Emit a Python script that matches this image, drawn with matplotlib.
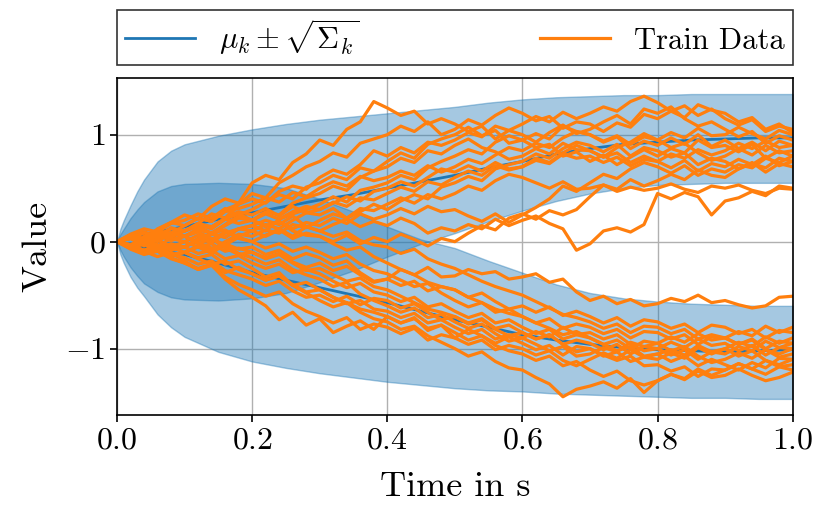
import numpy as np
import matplotlib
matplotlib.use("Agg")
import matplotlib.pyplot as plt

plt.rcParams["font.family"] = "serif"
plt.rcParams["font.serif"] = ["cmr10"]
plt.rcParams["mathtext.fontset"] = "cm"
plt.rcParams["axes.formatter.use_mathtext"] = True
plt.rcParams["font.size"] = 23

# --- band / mean curves ---
t_band = [0, 0.005, 0.01, 0.02, 0.03, 0.04, 0.06, 0.08, 0.1, 0.15, 0.2, 0.25, 0.3, 0.35, 0.4,
          0.45, 0.5, 0.55, 0.6, 0.65, 0.7, 0.75, 0.8, 0.85, 0.9, 0.95, 1.0]
up_mean = [0, 0.008, 0.015, 0.03, 0.045, 0.06, 0.09, 0.115, 0.14, 0.21, 0.27, 0.33, 0.39, 0.44, 0.50,
           0.56, 0.62, 0.69, 0.75, 0.82, 0.87, 0.91, 0.93, 0.95, 0.96, 0.97, 0.97]
up_top = [0, 0.12, 0.2, 0.34, 0.47, 0.58, 0.75, 0.85, 0.91, 0.99, 1.05, 1.10, 1.14, 1.17, 1.20,
          1.23, 1.26, 1.30, 1.33, 1.35, 1.36, 1.37, 1.37, 1.38, 1.38, 1.38, 1.38]
up_bot = [0, -0.08, -0.14, -0.24, -0.32, -0.39, -0.47, -0.52, -0.54, -0.55, -0.53, -0.48, -0.38, -0.27, -0.14,
          -0.02, 0.08, 0.19, 0.29, 0.38, 0.45, 0.50, 0.53, 0.54, 0.55, 0.55, 0.55]
lo_mean = [0, -0.008, -0.015, -0.03, -0.043, -0.055, -0.08, -0.10, -0.12, -0.2, -0.29, -0.36, -0.43, -0.50, -0.57,
           -0.65, -0.73, -0.80, -0.87, -0.92, -0.96, -0.99, -1.01, -1.02, -1.03, -1.02, -1.01]
lo_top = [0, 0.07, 0.12, 0.22, 0.30, 0.37, 0.47, 0.52, 0.54, 0.55, 0.54, 0.50, 0.40, 0.28, 0.14,
          0.02, -0.06, -0.18, -0.29, -0.40, -0.48, -0.53, -0.56, -0.58, -0.59, -0.60, -0.60]
lo_bot = [0, -0.12, -0.2, -0.33, -0.43, -0.51, -0.68, -0.80, -0.89, -1.03, -1.12, -1.18, -1.23, -1.27, -1.31,
          -1.34, -1.37, -1.39, -1.40, -1.42, -1.43, -1.44, -1.45, -1.46, -1.46, -1.47, -1.47]

# --- training trajectories (51 samples, dt = 0.02) ---
t_train = np.linspace(0, 1, 51)
train_up = [
    [0.00, 0.06, 0.02, 0.12, 0.18, 0.25, 0.21, 0.33, 0.40, 0.36, 0.55, 0.62, 0.58, 0.74, 0.82, 0.95,
     0.90, 1.05, 1.12, 1.31, 1.25, 1.18, 1.22, 1.10, 1.15, 1.10, 1.03, 1.08, 0.96, 1.04, 1.00,
     0.93, 1.02, 1.09, 1.01, 1.05, 1.12, 1.18, 1.10, 1.24, 1.20, 1.26, 1.15, 1.08, 1.12, 1.05,
     0.98, 1.03, 0.92, 0.99, 0.95],
    [0.00, -0.04, 0.05, 0.10, 0.08, 0.15, 0.22, 0.19, 0.30, 0.35, 0.40, 0.36, 0.47, 0.52, 0.49, 0.60,
     0.67, 0.63, 0.72, 0.85, 0.80, 0.88, 0.83, 0.93, 0.90, 0.95, 1.02, 0.98, 1.08, 1.04, 1.10,
     1.17, 1.12, 1.21, 1.15, 1.20, 1.26, 1.22, 1.31, 1.36, 1.30, 1.22, 1.27, 1.18, 1.24, 1.15,
     1.09, 1.14, 1.03, 1.08, 1.05],
    [0.00, 0.05, -0.02, 0.08, 0.04, 0.10, 0.17, 0.26, 0.22, 0.35, 0.45, 0.41, 0.55, 0.62, 0.70, 0.75,
     0.83, 0.79, 0.92, 0.96, 1.00, 1.08, 1.03, 1.12, 1.00, 1.05, 1.14, 1.09, 1.18, 1.25, 1.20,
     1.13, 1.17, 1.06, 1.12, 1.10, 1.03, 1.11, 1.07, 1.19, 1.15, 1.22, 1.16, 1.28, 1.23, 1.20,
     1.12, 1.16, 1.05, 1.10, 1.02],
    [0.00, 0.07, 0.12, 0.09, 0.17, 0.20, 0.26, 0.22, 0.31, 0.25, 0.30, 0.37, 0.44, 0.40, 0.51, 0.55,
     0.62, 0.58, 0.69, 0.66, 0.75, 0.83, 0.78, 0.91, 0.96, 1.00, 1.07, 0.99, 1.04, 0.92, 0.95,
     1.01, 0.96, 1.08, 1.03, 1.00, 0.93, 0.98, 0.87, 0.94, 0.90, 0.97, 0.91, 1.00, 0.89, 0.95,
     0.87, 0.93, 0.85, 0.94, 0.90],
    [0.00, -0.03, 0.04, 0.00, 0.08, 0.05, 0.11, 0.08, 0.16, 0.24, 0.20, 0.28, 0.25, 0.36, 0.41, 0.45,
     0.52, 0.48, 0.60, 0.66, 0.70, 0.78, 0.74, 0.85, 0.82, 0.90, 0.96, 0.88, 0.84, 0.77, 0.80,
     0.87, 0.82, 0.92, 0.86, 0.85, 0.79, 0.88, 0.93, 1.01, 0.95, 0.88, 0.92, 0.83, 0.76, 0.80,
     0.87, 0.81, 0.90, 0.83, 0.85],
    [0.00, -0.06, -0.02, -0.09, -0.04, -0.05, 0.03, -0.01, 0.08, 0.12, 0.15, 0.10, 0.21, 0.26, 0.30, 0.35,
     0.42, 0.37, 0.48, 0.51, 0.55, 0.62, 0.58, 0.69, 0.75, 0.80, 0.86, 0.82, 0.93, 0.99, 0.95,
     0.88, 0.91, 0.80, 0.84, 0.75, 0.81, 0.72, 0.79, 0.86, 0.80, 0.87, 0.83, 0.95, 0.88, 0.90,
     0.84, 0.91, 0.78, 0.85, 0.80],
    [0.00, 0.04, 0.09, 0.05, 0.13, 0.10, 0.17, 0.14, 0.22, 0.28, 0.25, 0.31, 0.24, 0.33, 0.27, 0.30,
     0.37, 0.33, 0.41, 0.39, 0.45, 0.51, 0.47, 0.56, 0.53, 0.60, 0.66, 0.62, 0.71, 0.67, 0.70,
     0.78, 0.74, 0.83, 0.90, 0.85, 0.79, 0.83, 0.74, 0.80, 0.75, 0.69, 0.76, 0.66, 0.73, 0.70,
     0.77, 0.72, 0.80, 0.71, 0.75],
    [0.00, 0.03, -0.04, 0.02, -0.05, 0.00, 0.06, 0.02, 0.09, 0.05, 0.10, 0.16, 0.12, 0.20, 0.27, 0.25,
     0.31, 0.22, 0.28, 0.35, 0.30, 0.38, 0.44, 0.40, 0.51, 0.55, 0.61, 0.57, 0.68, 0.72, 0.75,
     0.82, 0.78, 0.87, 0.93, 0.90, 0.84, 0.91, 0.80, 0.88, 0.85, 0.79, 0.83, 0.72, 0.78, 0.75,
     0.68, 0.74, 0.65, 0.73, 0.70],
    [0.00, 0.04, -0.02, 0.06, 0.01, 0.05, 0.09, 0.03, -0.03, 0.04, 0.00, 0.06, 0.12, 0.05, 0.14, 0.10,
     0.16, 0.21, 0.14, 0.19, 0.15, 0.22, 0.17, 0.08, 0.13, 0.10, 0.16, 0.12, 0.21, 0.15, 0.20,
     0.24, 0.17, 0.12, -0.08, -0.02, 0.10, 0.13, 0.09, 0.16, 0.45, 0.40, 0.46, 0.42, 0.25, 0.38,
     0.41, 0.47, 0.43, 0.52, 0.50],
    [0.00, -0.05, 0.02, -0.03, -0.08, -0.05, 0.01, 0.08, 0.04, 0.12, 0.10, 0.05, 0.11, 0.03, 0.08, 0.05,
     0.00, 0.06, -0.02, 0.04, 0.00, 0.07, 0.02, -0.04, 0.03, 0.00, 0.08, 0.15, 0.11, 0.22, 0.26,
     0.21, 0.29, 0.25, 0.30, 0.42, 0.53, 0.49, 0.58, 0.52, 0.57, 0.63, 0.58, 0.67, 0.62, 0.60,
     0.68, 0.73, 0.69, 0.78, 0.75],
    [0.00, 0.05, 0.02, 0.10, 0.07, 0.10, 0.16, 0.13, 0.21, 0.17, 0.20, 0.14, 0.19, 0.12, 0.18, 0.15,
     0.22, 0.17, 0.26, 0.21, 0.25, 0.31, 0.26, 0.33, 0.28, 0.30, 0.24, 0.19, 0.26, 0.18, 0.25,
     0.32, 0.40, 0.52, 0.47, 0.55, 0.63, 0.59, 0.68, 0.74, 0.70, 0.64, 0.71, 0.62, 0.68, 0.65,
     0.72, 0.69, 0.78, 0.74, 0.80],
    [0.00, -0.05, -0.10, -0.06, -0.13, -0.10, -0.04, -0.08, 0.00, 0.07, 0.05, 0.11, 0.08, 0.16, 0.13, 0.20,
     0.26, 0.22, 0.31, 0.29, 0.35, 0.41, 0.36, 0.44, 0.40, 0.45, 0.52, 0.48, 0.57, 0.63, 0.60,
     0.55, 0.50, 0.56, 0.49, 0.50, 0.53, 0.47, 0.51, 0.48, 0.50, 0.54, 0.49, 0.46, 0.52, 0.50,
     0.53, 0.48, 0.45, 0.50, 0.49],
    [0.00, 0.06, 0.03, 0.11, 0.18, 0.15, 0.22, 0.19, 0.28, 0.31, 0.35, 0.41, 0.37, 0.46, 0.42, 0.50,
     0.56, 0.52, 0.61, 0.57, 0.60, 0.66, 0.62, 0.71, 0.65, 0.70, 0.77, 0.73, 0.81, 0.88, 0.85,
     0.92, 0.88, 0.97, 1.03, 1.00, 0.94, 0.99, 0.91, 0.98, 0.95, 1.02, 0.97, 1.06, 0.99, 1.00,
     1.07, 1.01, 0.96, 1.04, 1.00],
    [0.00, 0.04, -0.02, 0.03, 0.08, 0.05, 0.12, 0.08, 0.15, 0.22, 0.20, 0.26, 0.21, 0.28, 0.33, 0.30,
     0.36, 0.42, 0.38, 0.47, 0.50, 0.56, 0.52, 0.60, 0.68, 0.65, 0.71, 0.66, 0.74, 0.68, 0.70,
     0.76, 0.73, 0.82, 0.78, 0.80, 0.74, 0.79, 0.71, 0.77, 0.75, 0.82, 0.78, 0.86, 0.81, 0.85,
     0.92, 0.87, 0.94, 0.88, 0.90],
]
train_lo = [
    [0.00, -0.04, -0.08, -0.03, -0.12, -0.10, -0.05, -0.11, -0.02, -0.07, -0.05, -0.12, -0.08, -0.16, -0.11, -0.15,
     -0.22, -0.18, -0.29, -0.37, -0.35, -0.26, -0.31, -0.24, -0.33, -0.32, -0.26, -0.30, -0.28, -0.35, -0.33,
     -0.30, -0.38, -0.35, -0.47, -0.55, -0.51, -0.58, -0.54, -0.60, -0.58, -0.53, -0.56, -0.50, -0.57, -0.55,
     -0.59, -0.62, -0.60, -0.52, -0.51],
    [0.00, 0.04, 0.09, 0.03, 0.08, 0.05, -0.02, 0.03, -0.06, -0.12, -0.10, -0.15, -0.11, -0.19, -0.24, -0.20,
     -0.27, -0.23, -0.31, -0.38, -0.35, -0.41, -0.37, -0.46, -0.42, -0.45, -0.52, -0.48, -0.56, -0.63, -0.60,
     -0.66, -0.61, -0.69, -0.65, -0.70, -0.76, -0.71, -0.79, -0.73, -0.75, -0.81, -0.77, -0.85, -0.78, -0.80,
     -0.86, -0.82, -0.90, -0.83, -0.85],
    [0.00, -0.05, -0.02, -0.09, -0.12, -0.15, -0.21, -0.18, -0.27, -0.31, -0.35, -0.41, -0.37, -0.46, -0.52, -0.50,
     -0.56, -0.51, -0.59, -0.53, -0.55, -0.62, -0.58, -0.66, -0.73, -0.70, -0.77, -0.73, -0.82, -0.88, -0.85,
     -0.91, -0.87, -0.96, -0.92, -0.95, -1.01, -0.96, -1.05, -0.98, -1.00, -0.94, -0.99, -0.91, -0.97, -0.95,
     -1.02, -0.97, -1.06, -0.99, -1.00],
    [0.00, -0.06, -0.10, -0.07, -0.15, -0.20, -0.26, -0.22, -0.33, -0.40, -0.45, -0.51, -0.47, -0.58, -0.65, -0.70,
     -0.76, -0.71, -0.82, -0.77, -0.80, -0.86, -0.81, -0.92, -0.87, -0.90, -0.96, -0.92, -1.01, -0.97, -1.00,
     -1.06, -1.02, -1.11, -1.16, -1.10, -1.04, -1.09, -1.01, -1.08, -1.05, -1.12, -1.07, -1.16, -1.10, -1.15,
     -1.20, -1.13, -1.18, -1.09, -1.10],
    [0.00, -0.03, -0.08, -0.04, -0.12, -0.10, -0.16, -0.21, -0.18, -0.26, -0.30, -0.36, -0.32, -0.41, -0.38, -0.45,
     -0.52, -0.57, -0.63, -0.66, -0.70, -0.76, -0.72, -0.81, -0.78, -0.85, -0.92, -0.88, -0.97, -1.02, -1.05,
     -1.11, -1.07, -1.16, -1.12, -1.20, -1.26, -1.21, -1.30, -1.34, -1.30, -1.24, -1.28, -1.19, -1.25, -1.20,
     -1.14, -1.19, -1.11, -1.17, -1.15],
    [0.00, -0.06, -0.02, -0.09, -0.05, -0.10, -0.15, -0.12, -0.21, -0.18, -0.25, -0.33, -0.29, -0.41, -0.48, -0.55,
     -0.61, -0.57, -0.66, -0.72, -0.75, -0.82, -0.79, -0.88, -0.94, -1.00, -1.07, -1.03, -1.12, -1.18, -1.20,
     -1.27, -1.33, -1.45, -1.38, -1.35, -1.31, -1.37, -1.28, -1.41, -1.30, -1.24, -1.29, -1.21, -1.27, -1.25,
     -1.19, -1.25, -1.30, -1.27, -1.22],
    [0.00, 0.03, -0.02, 0.06, 0.02, 0.05, -0.01, -0.06, -0.03, -0.11, -0.15, -0.21, -0.17, -0.26, -0.31, -0.35,
     -0.42, -0.38, -0.49, -0.55, -0.60, -0.66, -0.62, -0.71, -0.68, -0.75, -0.81, -0.77, -0.86, -0.93, -0.90,
     -0.84, -0.89, -0.80, -0.87, -0.85, -0.91, -0.87, -0.96, -1.02, -1.00, -1.06, -1.01, -1.10, -1.03, -1.05,
     -0.98, -1.02, -0.93, -0.99, -0.95],
    [0.00, -0.04, 0.01, -0.06, -0.02, -0.05, -0.11, -0.08, -0.16, -0.13, -0.20, -0.25, -0.21, -0.29, -0.26, -0.30,
     -0.37, -0.43, -0.39, -0.47, -0.50, -0.56, -0.52, -0.61, -0.58, -0.65, -0.71, -0.67, -0.76, -0.73, -0.80,
     -0.86, -0.82, -0.91, -0.87, -0.90, -0.96, -0.92, -1.00, -0.93, -0.95, -1.02, -0.98, -1.07, -1.13, -1.10,
     -1.04, -1.09, -1.01, -1.08, -1.05],
    [0.00, 0.05, 0.02, 0.09, 0.06, 0.10, 0.14, 0.08, 0.11, 0.03, 0.00, -0.06, -0.02, -0.09, -0.05, -0.10,
     -0.16, -0.12, -0.21, -0.27, -0.30, -0.36, -0.42, -0.39, -0.48, -0.55, -0.61, -0.57, -0.66, -0.63, -0.70,
     -0.76, -0.72, -0.81, -0.77, -0.80, -0.86, -0.82, -0.90, -0.84, -0.85, -0.91, -0.87, -0.96, -0.89, -0.90,
     -0.84, -0.88, -0.79, -0.85, -0.80],
    [0.00, -0.05, -0.09, -0.14, -0.10, -0.18, -0.26, -0.22, -0.35, -0.45, -0.52, -0.60, -0.73, -0.66, -0.78, -0.72,
     -0.85, -0.79, -0.74, -0.82, -0.70, -0.76, -0.71, -0.83, -0.78, -0.90, -0.82, -0.88, -0.95, -0.89, -0.95,
     -1.01, -0.97, -1.06, -0.98, -1.00, -1.07, -1.03, -1.12, -1.08, -1.10, -1.04, -1.09, -0.99, -1.05, -1.00,
     -1.07, -1.02, -1.11, -1.15, -1.10],
    [0.00, -0.03, 0.02, -0.04, 0.03, 0.00, -0.05, -0.02, -0.09, -0.06, -0.10, -0.16, -0.12, -0.20, -0.27, -0.25,
     -0.31, -0.37, -0.34, -0.42, -0.45, -0.51, -0.57, -0.63, -0.66, -0.70, -0.76, -0.72, -0.81, -0.78, -0.85,
     -0.91, -0.87, -0.96, -1.03, -1.00, -1.06, -1.11, -1.07, -1.16, -1.15, -1.21, -1.17, -1.26, -1.19, -1.20,
     -1.14, -1.19, -1.24, -1.17, -1.20],
    [0.00, -0.07, -0.12, -0.09, -0.16, -0.20, -0.25, -0.21, -0.29, -0.24, -0.30, -0.36, -0.32, -0.40, -0.47, -0.45,
     -0.52, -0.58, -0.55, -0.63, -0.65, -0.71, -0.67, -0.76, -0.73, -0.80, -0.86, -0.82, -0.91, -0.87, -0.90,
     -0.96, -1.02, -0.98, -1.07, -1.05, -0.99, -1.03, -0.94, -0.98, -0.95, -0.89, -0.94, -0.86, -0.92, -0.90,
     -0.96, -0.91, -1.00, -0.93, -0.95],
    [0.00, 0.04, -0.03, 0.02, -0.07, -0.05, 0.02, 0.07, 0.04, 0.12, 0.15, 0.20, 0.16, 0.24, 0.14, 0.10,
     0.05, 0.09, 0.01, -0.03, -0.05, -0.11, -0.07, -0.16, -0.21, -0.25, -0.31, -0.37, -0.42, -0.46, -0.50,
     -0.56, -0.62, -0.68, -0.71, -0.75, -0.81, -0.77, -0.85, -0.79, -0.80, -0.86, -0.82, -0.91, -0.87, -0.90,
     -0.96, -0.92, -1.01, -1.05, -1.00],
    [0.00, 0.03, 0.08, 0.05, 0.12, 0.10, 0.16, 0.12, 0.21, 0.26, 0.20, 0.15, 0.19, 0.10, 0.06, 0.05,
     -0.02, -0.08, -0.05, -0.14, -0.20, -0.26, -0.31, -0.38, -0.42, -0.45, -0.52, -0.57, -0.63, -0.67, -0.70,
     -0.76, -0.81, -0.87, -0.84, -0.90, -0.96, -1.02, -0.98, -1.07, -1.05, -1.01, -1.06, -0.97, -1.03, -1.00,
     -0.94, -0.98, -0.89, -0.95, -0.90],
]

blue = "tab:blue"
orange = "tab:orange"

fig = plt.figure(figsize=(8.3, 5.2), dpi=100)
ax = fig.add_axes([0.141, 0.202, 0.814, 0.648])

ax.fill_between(t_band, up_bot, up_top, color=blue, alpha=0.4)
ax.fill_between(t_band, lo_bot, lo_top, color=blue, alpha=0.4)
ax.plot(t_band, up_mean, color=blue, lw=2, label=r"$\mu_k \pm \sqrt{\Sigma_k}$")
ax.plot(t_band, lo_mean, color=blue, lw=2)

first = True
for traj in train_up + train_lo:
    ax.plot(t_train, traj, color=orange, lw=2.3, label="Train Data" if first else None)
    first = False

ax.set_xlim(0, 1)
ax.set_ylim(-1.62, 1.53)
ax.set_xticks([0.0, 0.2, 0.4, 0.6, 0.8, 1.0])
ax.set_yticks([-1, 0, 1])
ax.tick_params(labelsize=23, length=5, width=1.2)
for s in ax.spines.values():
    s.set_linewidth(1.2)
ax.grid(True, color="#b0b0b0", lw=1)
ax.set_axisbelow(True)
ax.set_xlabel("Time in s", fontsize=26, labelpad=12)
ax.set_ylabel("Value", fontsize=26, labelpad=8)

leg = ax.legend(bbox_to_anchor=(0, 1.04, 1, 0.2), loc="lower left", mode="expand",
                ncol=2, borderaxespad=0, fancybox=False, framealpha=1, edgecolor="0.2",
                fontsize=22, handlelength=2.3, borderpad=0.25)
leg.get_frame().set_linewidth(1.2)

fig.savefig("out.png", dpi=100)
